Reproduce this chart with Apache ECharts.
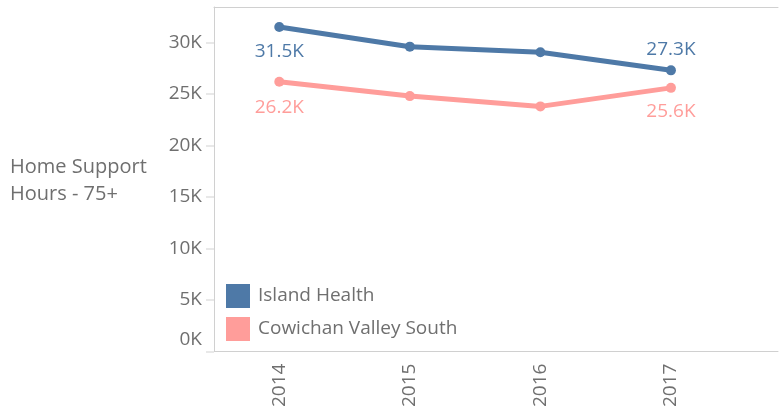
<!DOCTYPE html>
<html>
<head>
<meta charset="utf-8">
<script src="https://cdn.jsdelivr.net/npm/echarts@6/dist/echarts.min.js"></script>
<style>
  html, body { margin: 0; padding: 0; background: #fff; }
  #chart { width: 779px; height: 410px; }
</style>
</head>
<body>
<div id="chart"></div>
<script>
  // data
  var years = [2014, 2015, 2016, 2017];
  var islandHealth = [31500, 29600, 29050, 27300];
  var cowichan = [26200, 24800, 23800, 25600];
  var yTicks = [0, 5000, 10000, 15000, 20000, 25000, 30000];

  var blue = '#4e79a7';
  var pink = '#ff9d9a';
  var grey = '#6f6f6f';
  var font = 'Open Sans';
  var fs = 19;

  function pairs(vals) {
    var out = [];
    for (var i = 0; i < years.length; i++) out.push([years[i], vals[i]]);
    return out;
  }

  function fmtK(v) {
    return (v / 1000).toFixed(1) + 'K';
  }

  // labels only on first and last point
  function endLabels(vals, first, last, color) {
    var d = pairs(vals);
    return d.map(function (p, i) {
      var item = { value: p };
      if (i === 0 || i === d.length - 1) {
        var pos = i === 0 ? first : last;
        item.label = {
          show: true,
          position: pos[0],
          distance: pos[1],
          formatter: fmtK(p[1]),
          color: color,
          fontSize: fs,
          fontFamily: font
        };
      }
      return item;
    });
  }

  var chart = echarts.init(document.getElementById('chart'));
  chart.setOption({
    animation: false,
    backgroundColor: '#fff',
    title: {
      text: 'Home Support\nHours - 75+',
      left: 10,
      top: 154,
      padding: 0,
      textStyle: { color: grey, fontSize: 20, fontWeight: 'normal', fontFamily: font, lineHeight: 27 }
    },
    legend: {
      orient: 'vertical',
      left: 226,
      top: 284,
      padding: 0,
      icon: 'rect',
      itemWidth: 24,
      itemHeight: 24,
      itemGap: 9,
      textStyle: { color: grey, fontSize: fs, fontFamily: font, padding: [2, 0, 0, 3] },
      data: ['Island Health', 'Cowichan Valley South']
    },
    grid: { left: 214, right: 1, top: 7, bottom: 56 },
    xAxis: [{
      type: 'value',
      min: 2013.5,
      max: 2017.82,
      splitLine: { show: false },
      axisTick: { show: false },
      axisLine: { show: true, lineStyle: { color: '#d0d0d0', width: 1 } },
      axisLabel: {
        customValues: years,
        rotate: 90,
        margin: 12,
        color: grey,
        fontSize: fs,
        fontFamily: font,
        formatter: function (v) { return String(v); }
      }
    }, {
      type: 'value',
      position: 'top',
      min: 2013.5,
      max: 2017.82,
      splitLine: { show: false },
      axisTick: { show: false },
      axisLabel: { show: false },
      axisLine: { show: true, lineStyle: { color: '#d0d0d0', width: 1 } }
    }],
    yAxis: {
      type: 'value',
      min: 0,
      max: 33450,
      interval: 5000,
      splitLine: { show: false },
      axisLine: { show: true, lineStyle: { color: '#d0d0d0', width: 1 } },
      axisTick: {
        show: true,
        customValues: yTicks,
        length: 8,
        lineStyle: { color: '#e8e8e8', width: 2 }
      },
      axisLabel: {
        customValues: yTicks,
        margin: 12,
        color: grey,
        fontSize: fs,
        fontFamily: font,
        formatter: function (v) {
          if (v === 0) return '{z|0K}';
          return (v / 1000) + 'K';
        },
        rich: {
          z: { color: grey, fontSize: fs, fontFamily: font, padding: [0, 0, 24, 0] }
        }
      }
    },
    series: [{
      name: 'Island Health',
      type: 'line',
      color: blue,
      symbol: 'circle',
      symbolSize: 10,
      lineStyle: { width: 5, color: blue },
      itemStyle: { color: blue },
      data: endLabels(islandHealth, ['bottom', 10], ['top', 6], blue)
    }, {
      name: 'Cowichan Valley South',
      type: 'line',
      color: pink,
      symbol: 'circle',
      symbolSize: 10,
      lineStyle: { width: 5, color: pink },
      itemStyle: { color: pink },
      data: endLabels(cowichan, ['bottom', 11], ['bottom', 9], pink)
    }]
  });
</script>
</body>
</html>
